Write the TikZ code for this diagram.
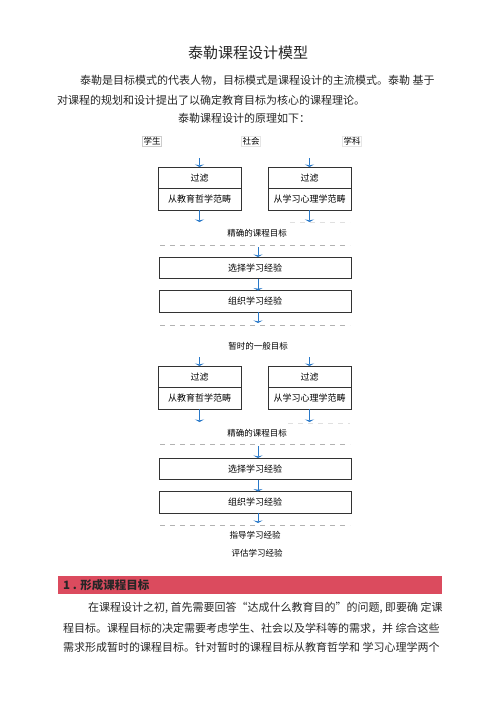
\documentclass[tikz,border=0pt]{standalone}
\usepackage{fontspec}
\setmainfont{Noto Sans CJK SC}
\usepackage{tikz}
\usetikzlibrary{positioning, arrows.meta}
\definecolor{flowblue}{RGB}{40,120,200}
\definecolor{barred}{RGB}{219,75,94}

\begin{document}
\begin{tikzpicture}[x=1pt, y=-1pt,
    box/.style={draw=black!80, line width=0.8pt, minimum height=21.5pt, inner sep=0pt, outer sep=0pt, font=\fontsize{9}{9}\selectfont},
    halfbox/.style={box, minimum width=83pt},
    widebox/.style={box, minimum width=192pt},
    flow/.style={flowblue, line width=0.8pt, -{Stealth[length=2.5pt,width=9pt]}},
    sepline/.style={black!30, line width=0.6pt, dash pattern=on 5pt off 5pt},
    faintline/.style={sepline, black!12},
    tag/.style={font=\fontsize{8.5}{8.5}\selectfont},
    body/.style={anchor=west, inner sep=0pt, font=\fontsize{11}{11}\selectfont, text=black!85}]
    \useasboundingbox (0,0) rectangle (500,718);

    % Title and introduction
    \node[font=\fontsize{15}{15}\selectfont, text=black!85] (title) at (248,53) {泰勒课程设计模型};
    \node[body] (introa) at (80,80) {泰勒是目标模式的代表人物，目标模式是课程设计的主流模式。泰勒 基于};
    \node[body] (introb) at (57,100) {对课程的规划和设计提出了以确定教育目标为核心的课程理论。};
    \node[body, anchor=center] (intro) at (244,118) {泰勒课程设计的原理如下：};

    % Sources
    \node[tag, draw=black!20, line width=0.4pt, inner sep=1pt] (student) at (152,141) {学生};
    \node[tag, draw=black!10, line width=0.4pt, inner sep=1pt] (society) at (251,141) {社会};
    \node[tag, draw=black!10, line width=0.4pt, inner sep=1pt] (subject) at (352,141) {学科};

    % First pass
    \node[halfbox, anchor=north] (filtera) at (199.5,167) {过滤};
    \node[halfbox, below=0pt of filtera] (philoa) {从教育哲学范畴};
    \node[halfbox, anchor=north] (filterb) at (309.5,167) {过滤};
    \node[halfbox, below=0pt of filterb] (psyb) {从学习心理学范畴};
    \coordinate (ina) at (199.5,158);
    \coordinate (inb) at (309.5,158);
    \coordinate (outa) at (199.5,222);
    \coordinate (outb) at (309.5,222);
    \draw[flow] (ina) -- (filtera);
    \draw[flow] (inb) -- (filterb);
    \draw[flow] (philoa) -- (outa);
    \draw[flow] (psyb) -- (outb);
    \draw[faintline] (290,222) -- (350,222);

    \node[tag] (goala) at (257,233) {精确的课程目标};
    \draw[sepline] (160,245) -- (350,245);
    \node[widebox, anchor=north] (selecta) at (255,257) {选择学习经验};
    \node[widebox, below=12pt of selecta] (organizea) {组织学习经验};
    \coordinate (goalin) at (258,247);
    \coordinate (goalout) at (258,323);
    \draw[flow] (goalin) -- (goalin |- selecta.north);
    \draw[flow] (selecta.south -| goalin) -- (organizea.north -| goalin);
    \draw[flow] (organizea.south -| goalin) -- (goalout);
    \draw[sepline] (160,325) -- (350,325);

    \node[tag] (tempgoal) at (258,346) {暂时的一般目标};

    % Second pass
    \node[halfbox, anchor=north] (filterc) at (199.5,366) {过滤};
    \node[halfbox, below=0pt of filterc] (philoc) {从教育哲学范畴};
    \node[halfbox, anchor=north] (filterd) at (309.5,366) {过滤};
    \node[halfbox, below=0pt of filterd] (psyd) {从学习心理学范畴};
    \coordinate (inc) at (199.5,357);
    \coordinate (ind) at (309.5,357);
    \coordinate (outc) at (199.5,422);
    \coordinate (outd) at (309.5,422);
    \draw[flow] (inc) -- (filterc);
    \draw[flow] (ind) -- (filterd);
    \draw[flow] (philoc) -- (outc);
    \draw[flow] (psyd) -- (outd);
    \draw[faintline] (288,423) -- (350,423);

    \node[tag] (goalb) at (257,433) {精确的课程目标};
    \draw[sepline] (160,444) -- (350,444);
    \node[widebox, anchor=north] (selectb) at (255,458) {选择学习经验};
    \node[widebox, below=12pt of selectb] (organizeb) {组织学习经验};
    \coordinate (goalinb) at (258,446);
    \coordinate (goaloutb) at (258,523);
    \draw[flow] (goalinb) -- (goalinb |- selectb.north);
    \draw[flow] (selectb.south -| goalinb) -- (organizeb.north -| goalinb);
    \draw[flow] (organizeb.south -| goalinb) -- (goaloutb);
    \draw[sepline] (160,525) -- (350,525);

    \node[tag] (guide) at (255,535) {指导学习经验};
    \node[tag] (assess) at (257,553) {评估学习经验};

    % Section 1
    \fill[barred] (58,576) rectangle (442,594);
    \node[anchor=west, inner sep=0pt, font=\fontsize{11.5}{11.5}\selectfont\bfseries, text=black!85] (sectiona) at (63,585) {1 . 形成课程目标};
    \node[body] (parta) at (88,608) {在课程设计之初, 首先需要回答“达成什么教育目的”的问题, 即要确 定课};
    \node[body] (partb) at (63,628) {程目标。课程目标的决定需要考虑学生、社会以及学科等的需求，并 综合这些};
    \node[body] (partc) at (63,647) {需求形成暂时的课程目标。针对暂时的课程目标从教育哲学和 学习心理学两个};
\end{tikzpicture}
\end{document}
